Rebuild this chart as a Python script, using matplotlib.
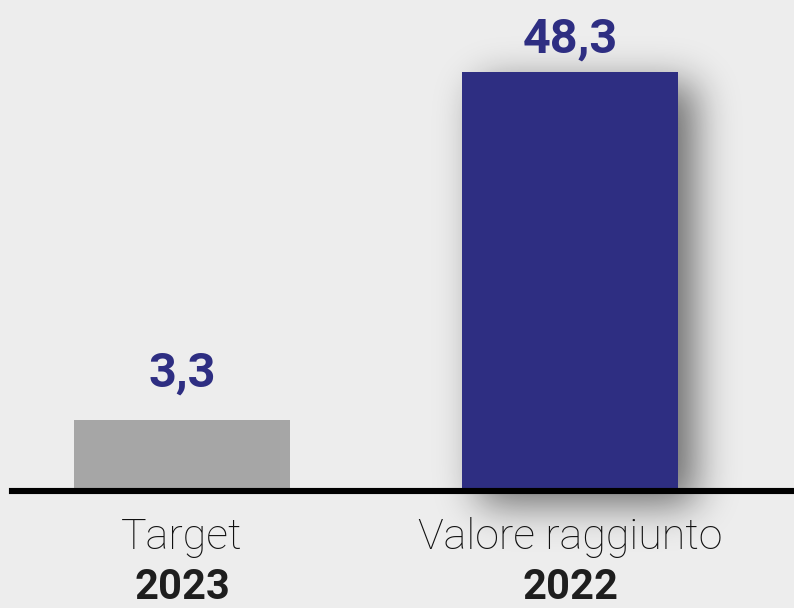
import matplotlib
matplotlib.use("Agg")
import matplotlib.pyplot as plt
import numpy as np
from matplotlib.lines import Line2D

# data
categories = ["Target", "Valore raggiunto"]
years = ["2023", "2022"]
values = [3.3, 48.3]
value_labels = ["3,3", "48,3"]

# style
bar_colors = ["#a6a6a6", "#2e2e82"]
label_pad = [24, 14]          # points above the bar top
has_shadow = [False, True]
BG = "#ededed"
NAVY = "#2e2e82"
W, H = 794, 608

plt.rcParams["font.family"] = ["Roboto", "DejaVu Sans"]

fig = plt.figure(figsize=(W / 100, H / 100), dpi=100, facecolor=BG)
base_px = 491
ax = fig.add_axes([0, 1 - base_px / H, 1, base_px / H])
ax.set_facecolor("none")
ax.set_yscale("log")
ax.set_ylim(1.909, 84.0)
ax.set_xlim(-0.469, 1.577)
ax.axis("off")

x = np.arange(len(values))
bars = ax.bar(x, values, width=0.557, color=bar_colors, zorder=2)

# baseline
fig.add_artist(Line2D([12 / W, 1], [1 - base_px / H] * 2, lw=4.4,
                      color="black", transform=fig.transFigure, zorder=5))

for xi, v, lab, pad in zip(x, values, value_labels, label_pad):
    ax.annotate(lab, (xi, v), xytext=(0, pad), textcoords="offset points",
                ha="center", va="baseline", fontsize=35, fontweight="bold",
                color=NAVY, annotation_clip=False)

for xi, cat, yr in zip(x, categories, years):
    ax.annotate(cat, (xi, 0), xycoords=("data", "axes fraction"),
                xytext=(0, -41.5), textcoords="offset points", ha="center",
                va="baseline", fontsize=31, fontweight="light", color="#111111",
                annotation_clip=False)
    ax.annotate(yr, (xi, 0), xycoords=("data", "axes fraction"),
                xytext=(0, -77.5), textcoords="offset points", ha="center",
                va="baseline", fontsize=30, fontweight="bold", color="#1e1e1e",
                annotation_clip=False)

# soft drop shadow behind the bars
fig.canvas.draw()
yy, xx = np.mgrid[0:H, 0:W]
mask = np.zeros((H, W))
dx, dy = 16, 12
for bar, sh in zip(bars, has_shadow):
    if not sh:
        continue
    bx0 = bar.get_x()
    bx1 = bx0 + bar.get_width()
    px0, py_top = ax.transData.transform((bx0, bar.get_height()))
    px1, _ = ax.transData.transform((bx1, bar.get_height()))
    py_bot = ax.transAxes.transform((0, 0))[1]
    top = H - py_top
    bot = H - py_bot
    mask[(xx >= px0 + dx) & (xx <= px1 + dx) & (yy >= top + dy) & (yy <= bot + dy)] = 1.0

sigma = 20
k = np.arange(-3 * sigma, 3 * sigma + 1)
kern = np.exp(-k ** 2 / (2 * sigma ** 2))
kern /= kern.sum()
blur = np.apply_along_axis(lambda r: np.convolve(r, kern, mode="same"), 1, mask)
blur = np.apply_along_axis(lambda c: np.convolve(c, kern, mode="same"), 0, blur)

rgba = np.zeros((H, W, 4))
rgba[..., 3] = blur * 0.55
sax = fig.add_axes([0, 0, 1, 1], zorder=-1)
sax.set_facecolor("none")
sax.axis("off")
sax.imshow(rgba, extent=(0, W, H, 0), aspect="auto", interpolation="bilinear")
sax.set_xlim(0, W)
sax.set_ylim(H, 0)

fig.savefig("out.png", dpi=100, facecolor=BG)
